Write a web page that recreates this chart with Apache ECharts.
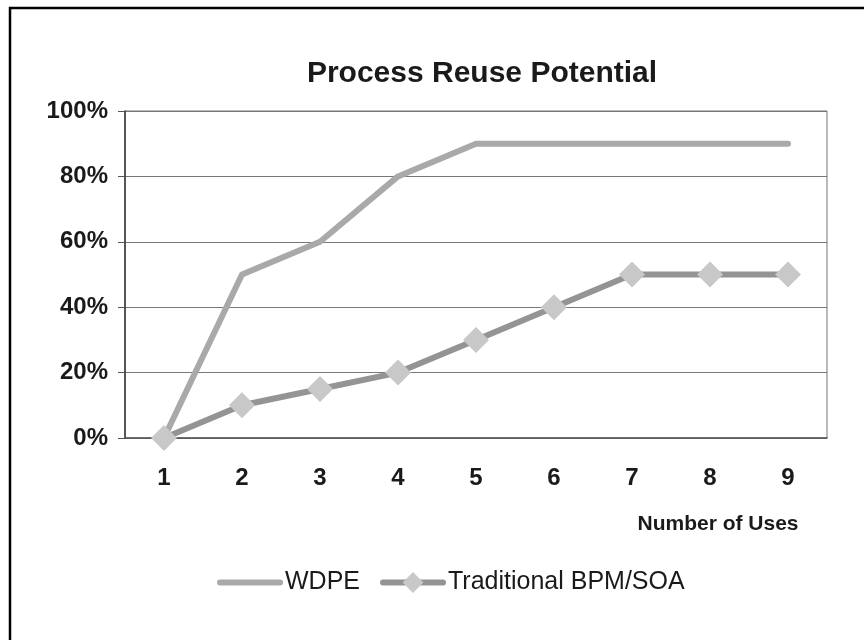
<!DOCTYPE html>
<html>
<head>
<meta charset="utf-8">
<script src="https://cdn.jsdelivr.net/npm/echarts@6/dist/echarts.min.js"></script>
<style>
html,body{margin:0;padding:0;background:#fff;}
#chart{width:864px;height:640px;}
</style>
</head>
<body>
<div id="chart"></div>
<script>
const categories = ['1','2','3','4','5','6','7','8','9'];
const wdpe = [0, 50, 60, 80, 90, 90, 90, 90, 90];
const traditional = [0, 10, 15, 20, 30, 40, 50, 50, 50];
const yTicks = [0, 20, 40, 60, 80, 100];

const chart = echarts.init(document.getElementById('chart'));
const font = '"Liberation Sans", Arial, sans-serif';
chart.setOption({
  animation: false,
  backgroundColor: '#fff',
  title: [
    { text: 'Process Reuse Potential', left: 477, top: 54, textAlign: 'center',
      textStyle: { fontFamily: font, fontWeight: 'bold', fontSize: 30, color: '#1a1a1a' } },
    { text: 'Number of Uses', left: 713, top: 509, textAlign: 'center',
      textStyle: { fontFamily: font, fontWeight: 'bold', fontSize: 21, color: '#1a1a1a' } }
  ],
  graphic: [
    { type: 'rect', shape: { x: 10, y: 8, width: 900, height: 700 },
      style: { fill: 'none', stroke: '#000', lineWidth: 2.5 } }
  ],
  grid: { left: 125, right: 37, top: 111, bottom: 202, show: true, borderColor: '#777', borderWidth: 1 },
  legend: {
    left: 212, top: 565, itemWidth: 60, itemHeight: 26, itemGap: 20,
    textStyle: { fontFamily: font, fontSize: 25, color: '#1a1a1a' },
    lineStyle: { width: 6 },
    data: [
      { name: 'WDPE', itemStyle: { opacity: 0 } },
      { name: 'Traditional BPM/SOA' }
    ]
  },
  xAxis: {
    type: 'category', data: categories, boundaryGap: true,
    axisLine: { lineStyle: { color: '#555', width: 1.5 } },
    axisTick: { show: false },
    axisLabel: { fontFamily: font, fontWeight: 'bold', fontSize: 24, color: '#1a1a1a', margin: 28 }
  },
  yAxis: {
    type: 'value', min: 0, max: 100, interval: 20,
    axisLine: { show: true, lineStyle: { color: '#333', width: 1.5 } },
    axisTick: { show: true, length: 7, lineStyle: { color: '#555' } },
    splitLine: { lineStyle: { color: '#777', width: 1 } },
    axisLabel: { fontFamily: font, fontWeight: 'bold', fontSize: 24, color: '#1a1a1a', margin: 17,
      formatter: v => yTicks.includes(v) ? v + '%' : '' }
  },
  series: [
    { name: 'WDPE', type: 'line', data: wdpe, symbol: 'none',
      lineStyle: { color: '#a9a9a9', width: 6, cap: 'round', join: 'round' },
      itemStyle: { color: '#a9a9a9' } },
    { name: 'Traditional BPM/SOA', type: 'line', data: traditional, symbol: 'diamond', symbolSize: 26,
      lineStyle: { color: '#949494', width: 6, cap: 'round', join: 'round' },
      itemStyle: { color: '#c8c8c8', borderWidth: 0 } }
  ]
});
</script>
</body>
</html>
